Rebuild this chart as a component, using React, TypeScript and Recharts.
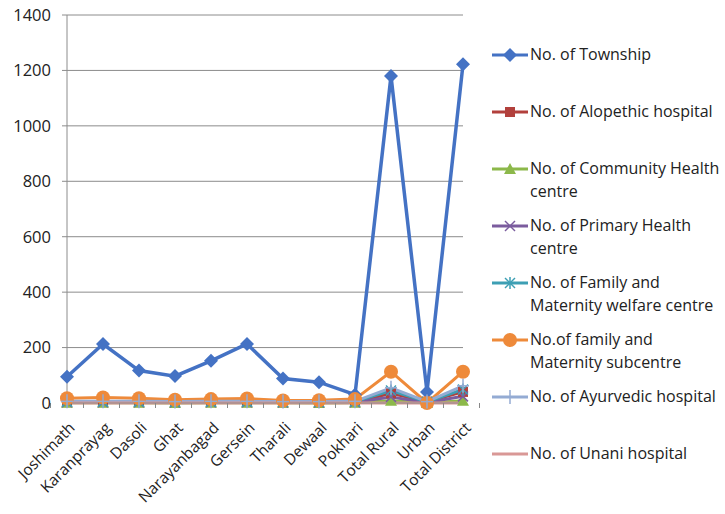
import React from "react";
import { LineChart, Line, XAxis, YAxis, CartesianGrid, Legend } from "recharts";

const blocks = [
  "Joshimath", "Karanprayag", "Dasoli", "Ghat", "Narayanbagad", "Gersein",
  "Tharali", "Dewaal", "Pokhari", "Total Rural", "Urban", "Total District",
];

const township = [95, 213, 117, 97, 152, 213, 88, 75, 30, 1180, 40, 1222];
const alopethic = [3, 3, 3, 2, 3, 3, 2, 2, 3, 35, 5, 40];
const communityHealth = [1, 1, 1, 0, 1, 1, 1, 0, 1, 8, 0, 8];
const primaryHealth = [3, 3, 3, 2, 3, 3, 2, 2, 3, 22, 2, 24];
const familyWelfare = [5, 5, 5, 4, 5, 5, 4, 4, 5, 45, 4, 49];
const familySubcentre = [17, 20, 17, 12, 14, 16, 9, 10, 14, 113, 0, 113];
const ayurvedic = [6, 6, 6, 5, 6, 6, 5, 5, 6, 55, 5, 62];
const unani = [0, 0, 0, 0, 0, 0, 0, 0, 0, 0, 0, 0];

const yTicks = [0, 200, 400, 600, 800, 1000, 1200, 1400];

const data = blocks.map((name, i) => ({
  name,
  township: township[i],
  alopethic: alopethic[i],
  communityHealth: communityHealth[i],
  primaryHealth: primaryHealth[i],
  familyWelfare: familyWelfare[i],
  familySubcentre: familySubcentre[i],
  ayurvedic: ayurvedic[i],
  unani: unani[i],
}));

type Shape = "diamond" | "square" | "triangle" | "x" | "star" | "circle" | "plus" | "none";

const series: { key: string; label: string[]; color: string; shape: Shape }[] = [
  { key: "township", label: ["No. of Township"], color: "#4472C4", shape: "diamond" },
  { key: "alopethic", label: ["No. of Alopethic  hospital"], color: "#B2403C", shape: "square" },
  { key: "communityHealth", label: ["No. of Community Health", "centre"], color: "#8CB84A", shape: "triangle" },
  { key: "primaryHealth", label: ["No. of Primary Health", "centre"], color: "#7B5C9E", shape: "x" },
  { key: "familyWelfare", label: ["No. of Family and", "Maternity welfare centre"], color: "#3D9FB4", shape: "star" },
  { key: "familySubcentre", label: ["No.of family and", "Maternity subcentre"], color: "#EE8A3A", shape: "circle" },
  { key: "ayurvedic", label: ["No. of Ayurvedic hospital"], color: "#94ABD3", shape: "plus" },
  { key: "unani", label: ["No. of Unani hospital"], color: "#D99896", shape: "none" },
];

const FONT = "'Open Sans', sans-serif";

const Marker = ({ cx, cy, shape, color }: { cx: number; cy: number; shape: Shape; color: string }) => {
  switch (shape) {
    case "diamond":
      return <polygon points={`${cx},${cy - 7} ${cx + 7},${cy} ${cx},${cy + 7} ${cx - 7},${cy}`} fill={color} />;
    case "square":
      return <rect x={cx - 5} y={cy - 5} width={10} height={10} fill={color} />;
    case "triangle":
      return <polygon points={`${cx},${cy - 6} ${cx + 6},${cy + 5} ${cx - 6},${cy + 5}`} fill={color} />;
    case "x":
      return (
        <g stroke={color} strokeWidth={1.5}>
          <line x1={cx - 5} y1={cy - 5} x2={cx + 5} y2={cy + 5} />
          <line x1={cx - 5} y1={cy + 5} x2={cx + 5} y2={cy - 5} />
        </g>
      );
    case "star":
      return (
        <g stroke={color} strokeWidth={1.5}>
          <line x1={cx - 5} y1={cy - 5} x2={cx + 5} y2={cy + 5} />
          <line x1={cx - 5} y1={cy + 5} x2={cx + 5} y2={cy - 5} />
          <line x1={cx} y1={cy - 6} x2={cx} y2={cy + 6} />
        </g>
      );
    case "circle":
      return <circle cx={cx} cy={cy} r={7} fill={color} />;
    case "plus":
      return (
        <g stroke={color} strokeWidth={1.5}>
          <line x1={cx} y1={cy - 7} x2={cx} y2={cy + 7} />
          <line x1={cx - 6} y1={cy} x2={cx + 6} y2={cy} />
        </g>
      );
    default:
      return null;
  }
};

const BAND = 33;

const CategoryTick = (props: any) => {
  const { x, y, payload, index } = props;
  return (
    <g transform={`translate(${x},${y})`}>
      <line x1={BAND / 2} y1={-8} x2={BAND / 2} y2={-3} stroke="#888" />
      {index === 0 && <line x1={-BAND / 2} y1={-8} x2={-BAND / 2} y2={-3} stroke="#888" />}
      <g transform="translate(5,14) rotate(-45)">
        <text x={0} y={0} dy="0.35em" textAnchor="end" fontSize={15.5} fontFamily={FONT} fill="#222">
          {payload.value}
        </text>
      </g>
    </g>
  );
};

const LegendContent = () => (
  <div style={{ position: "relative", width: 235, fontFamily: FONT, fontSize: 16, color: "#222" }}>
    {series.map((s, i) => (
      <div key={s.key} style={{ position: "absolute", top: i * 57, left: 0, display: "flex" }}>
        <svg width={40} height={23} style={{ flex: "none" }}>
          <line x1={2} y1={12} x2={38} y2={12} stroke={s.color} strokeWidth={3} />
          <Marker cx={20} cy={12} shape={s.shape} color={s.color} />
        </svg>
        <div style={{ lineHeight: "23px", whiteSpace: "nowrap" }}>
          {s.label.map((l) => (
            <div key={l}>{l}</div>
          ))}
        </div>
      </div>
    ))}
  </div>
);

const App = () => {
  return (
    <div style={{ position: "absolute", left: 0, top: 0, background: "#fff" }}>
      <LineChart width={725} height={514} data={data} margin={{ top: 15, right: 27, left: 10, bottom: 11 }}>
        <CartesianGrid vertical={false} stroke="#8c8c8c" />
        <XAxis
          dataKey="name"
          interval={0}
          height={100}
          stroke="#8c8c8c"
          tickLine={false}
          tick={<CategoryTick />}
        />
        <YAxis
          domain={[0, 1400]}
          ticks={yTicks}
          width={57}
          stroke="#8c8c8c"
          tickSize={5}
          tickMargin={11}
          tick={{ fontSize: 16.5, fontFamily: FONT, fill: "#222" }}
        />
        <Legend
          layout="vertical"
          align="right"
          verticalAlign="top"
          content={<LegendContent />}
          wrapperStyle={{ left: 490, top: 43, width: 235 }}
        />
        {series.map((s) => (
          <Line
            key={s.key}
            type="linear"
            dataKey={s.key}
            stroke={s.color}
            strokeWidth={s.key === "township" ? 3.5 : 3}
            dot={(p: any) => <Marker key={`${s.key}-${p.index}`} cx={p.cx} cy={p.cy} shape={s.shape} color={s.color} />}
            activeDot={false}
            isAnimationActive={false}
          />
        ))}
      </LineChart>
    </div>
  );
};

export default App;
